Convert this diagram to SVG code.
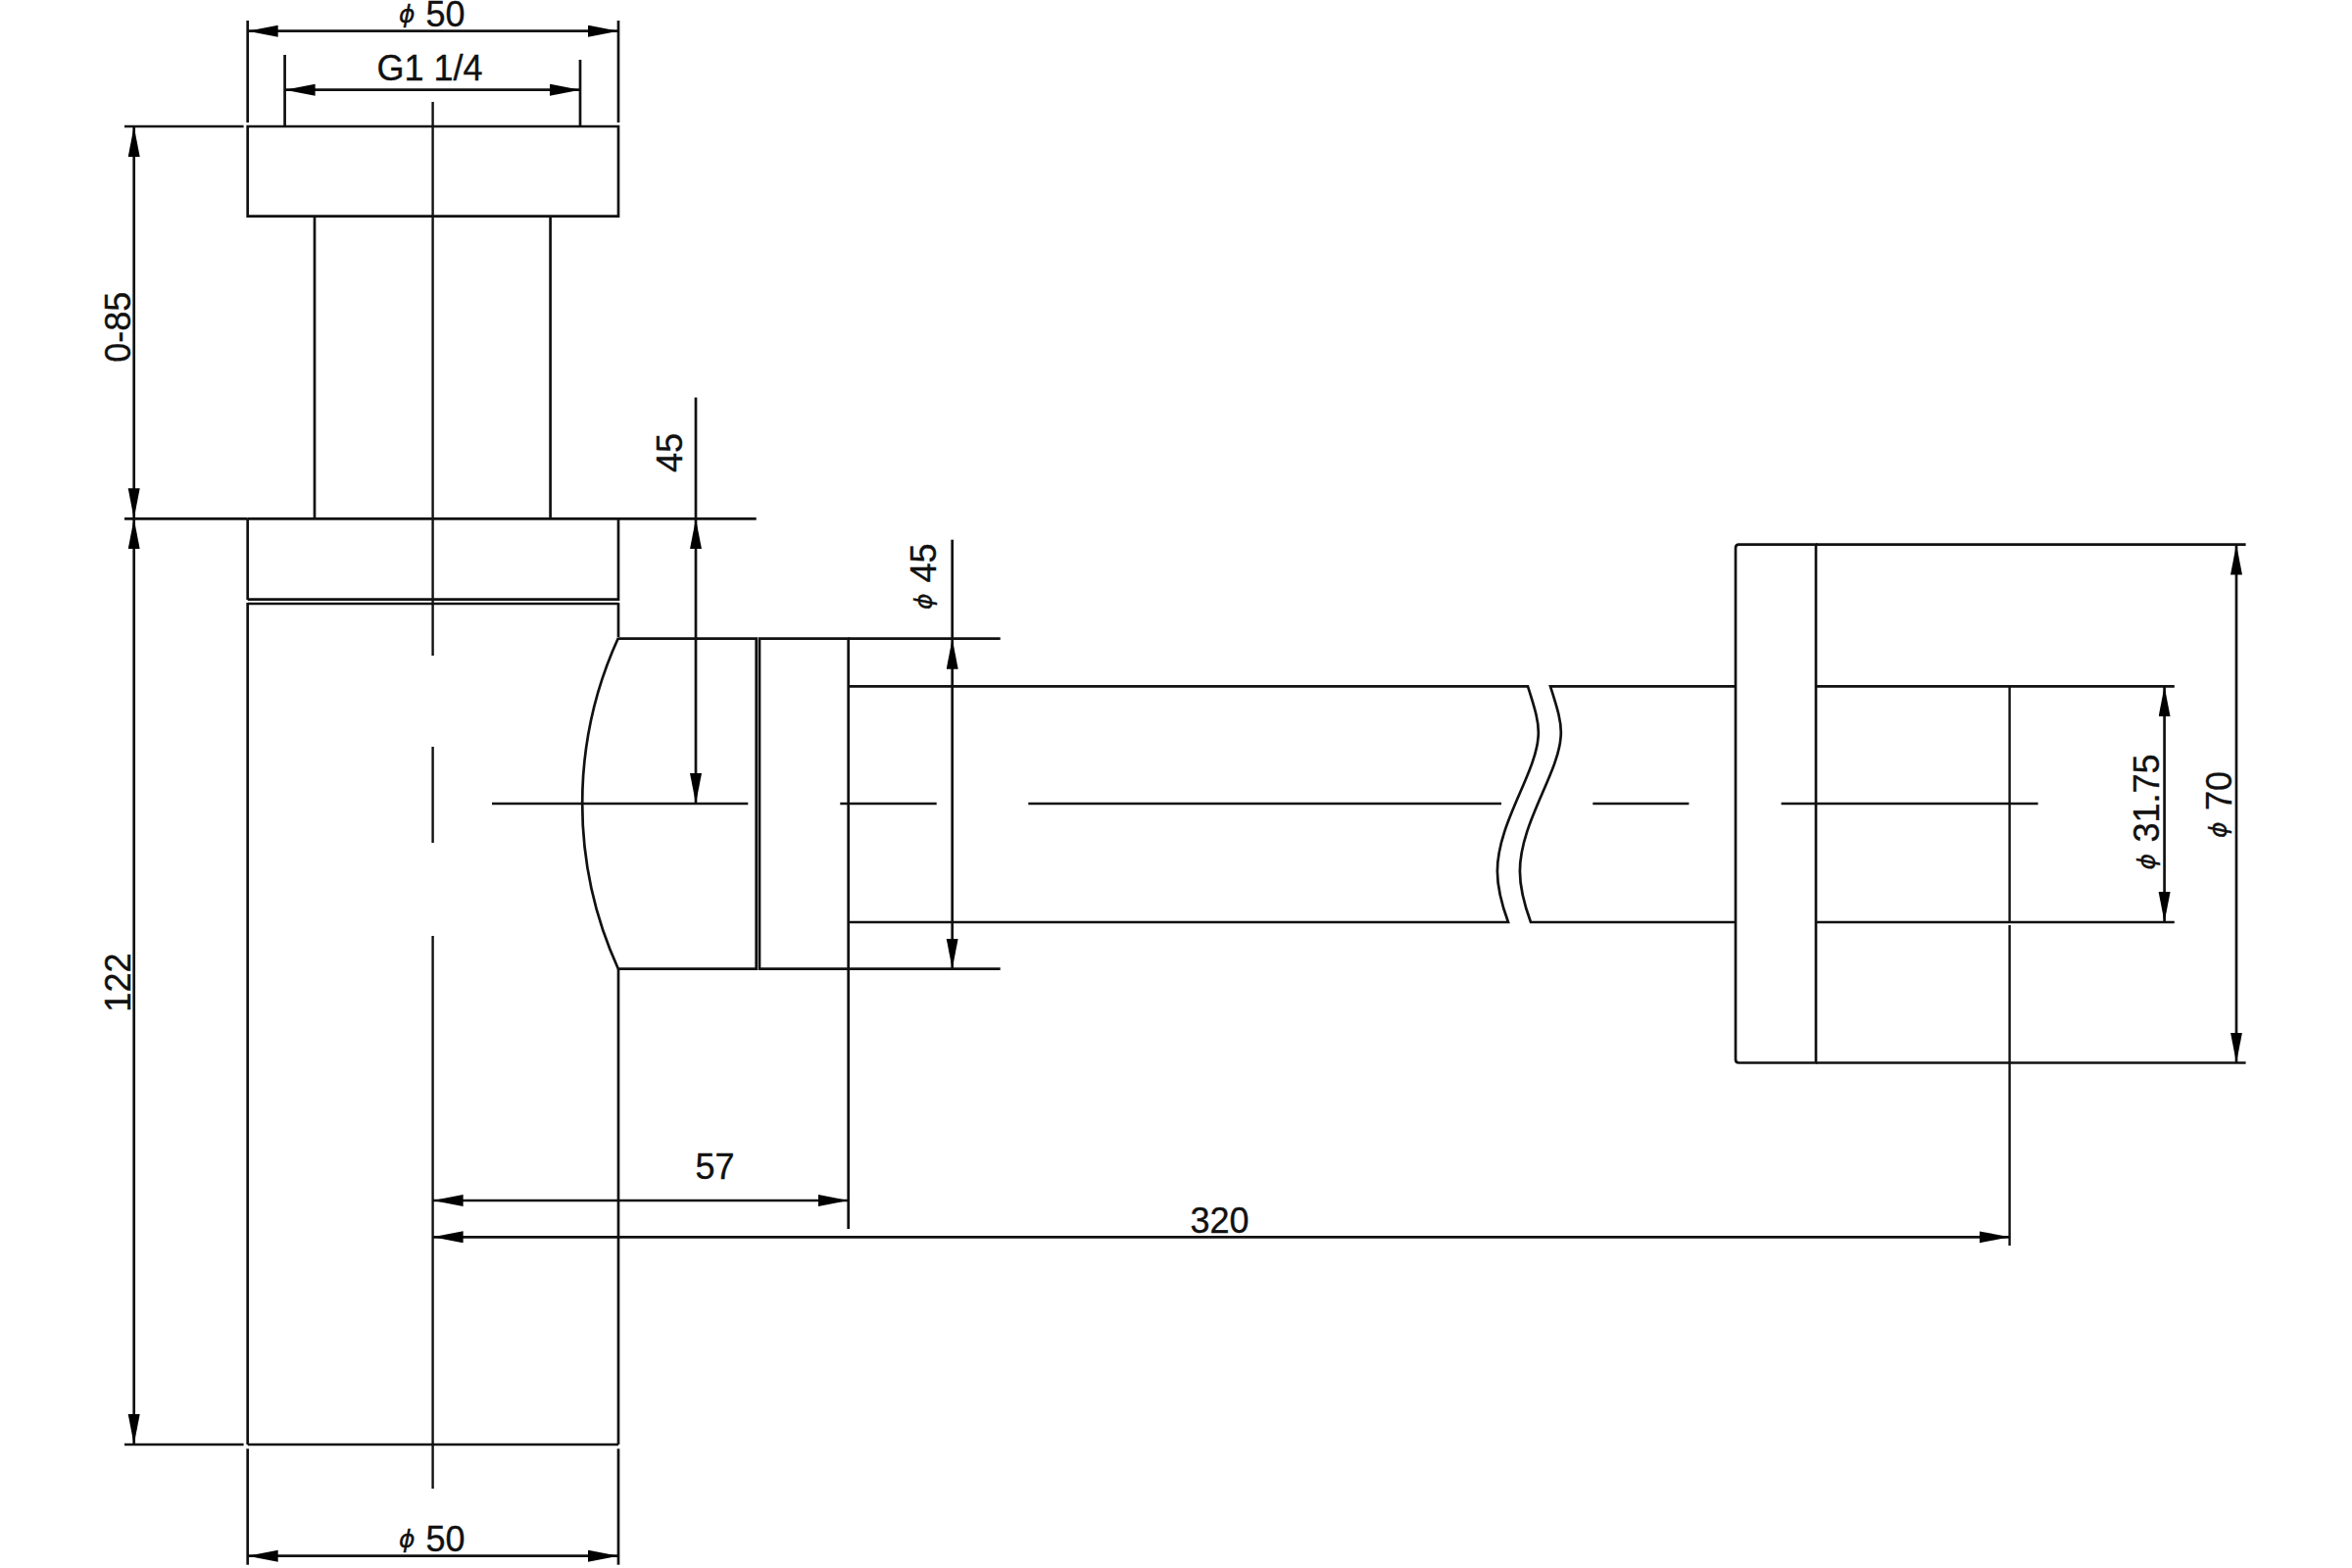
<svg xmlns="http://www.w3.org/2000/svg" width="2400" height="1600" viewBox="0 0 2400 1600">
<style>
line,path{fill:none;stroke:#111;stroke-width:2.7;stroke-linecap:butt}
.c{stroke-width:2.4}
.d{marker-start:url(#a);marker-end:url(#a)}
text{font-family:"Liberation Sans",Arial,sans-serif;font-size:36px;fill:#111;stroke:#111;stroke-width:.35}
.p{font-family:"DejaVu Sans",sans-serif;font-size:25px;font-style:italic}
</style>
<defs>
<marker id="a" markerUnits="userSpaceOnUse" markerWidth="32" markerHeight="14" refX="31" refY="6" orient="auto-start-reverse"><path d="M0 0L31 6L0 12Z" style="fill:#000;stroke:none"/></marker>
</defs>
<rect width="2400" height="1600" fill="#fff"/>
<g id="trap-body">
<path d="M252.7 129H631V220.7H252.7Z"/>
<line x1="321" y1="220.7" x2="321" y2="529.3"/>
<line x1="561.6" y1="220.7" x2="561.6" y2="529.3"/>
<line x1="252.7" y1="529.3" x2="631" y2="529.3"/>
<line x1="252.7" y1="529.3" x2="252.7" y2="612"/>
<line x1="252.7" y1="615" x2="252.7" y2="1474"/>
<path d="M631 529.3V611.7H252.7"/>
<path d="M253 616H631"/>
<line x1="631" y1="615" x2="631" y2="650"/>
<line x1="252.7" y1="1474" x2="631" y2="1474"/>
<line x1="631" y1="989" x2="631" y2="1474"/>
</g>
<g id="outlet-elbow">
<path d="M631 650.7A407 407 0 0 0 631 989"/>
<path d="M631 651.7H771.7V988.7H631"/>
<path d="M775 651.7H865.7V988.7H775Z"/>
</g>
<g id="outlet-pipe">
<path d="M865.7 700.3H1559C1566 722 1571 738 1569.6 752C1567 790 1528 840 1527.9 889C1527.9 905 1532 922 1539 941H865.7"/>
<path d="M1771 700.3H1582C1589 722 1594 738 1592.6 752C1590 790 1551 840 1550.9 889C1550.9 905 1555 922 1562 941H1771"/>
</g>
<g id="wall-flange">
<path d="M1771 559Q1771 555.6 1774.4 555.6H1853V1084.5H1774.4Q1771 1084.5 1771 1081Z"/>
<line x1="1853" y1="700.3" x2="2218.8" y2="700.3"/>
<line x1="1853" y1="941" x2="2218.8" y2="941"/>
</g>
<g id="centre-lines">
<line class="c" x1="441.6" y1="104" x2="441.6" y2="669"/>
<line class="c" x1="441.6" y1="762" x2="441.6" y2="860"/>
<line class="c" x1="441.6" y1="955" x2="441.6" y2="1519"/>
<line class="c" x1="502" y1="820" x2="763.3" y2="820"/>
<line class="c" x1="857.3" y1="820" x2="955.7" y2="820"/>
<line class="c" x1="1049.3" y1="820" x2="1532" y2="820"/>
<line class="c" x1="1625.3" y1="820" x2="1723.4" y2="820"/>
<line class="c" x1="1817.6" y1="820" x2="2079.6" y2="820"/>
<line class="c" x1="2050.6" y1="700.3" x2="2050.6" y2="941"/>
<line class="c" x1="2050.6" y1="944" x2="2050.6" y2="1271"/>
</g>
<g id="connectors">
<line x1="252.7" y1="21" x2="252.7" y2="125"/>
<line x1="631" y1="21" x2="631" y2="125"/>
<line class="d" x1="252.7" y1="31.7" x2="631" y2="31.7"/>
<line x1="290.6" y1="56" x2="290.6" y2="129"/>
<line x1="592" y1="61" x2="592" y2="129"/>
<line class="d" x1="290.6" y1="91.7" x2="592" y2="91.7"/>
<line x1="127" y1="129" x2="248.6" y2="129"/>
<line x1="127" y1="529.3" x2="252.7" y2="529.3"/>
<line x1="631" y1="529.3" x2="771.7" y2="529.3"/>
<line x1="127" y1="1474" x2="248.6" y2="1474"/>
<line class="d" x1="136.7" y1="129" x2="136.7" y2="529.3"/>
<line class="d" x1="136.7" y1="529.3" x2="136.7" y2="1474"/>
<line x1="710" y1="405.6" x2="710" y2="529.3"/>
<line class="d" x1="710" y1="529.3" x2="710" y2="820"/>
<line x1="971.7" y1="550.7" x2="971.7" y2="651.7"/>
<line x1="865.7" y1="651.7" x2="1020.7" y2="651.7"/>
<line x1="865.7" y1="988.7" x2="1020.7" y2="988.7"/>
<line class="d" x1="971.7" y1="651.7" x2="971.7" y2="988.7"/>
<line x1="865.7" y1="988.7" x2="865.7" y2="1254"/>
<line class="d" x1="441.6" y1="1225" x2="865.7" y2="1225"/>
<line class="d" x1="441.6" y1="1262.3" x2="2050.6" y2="1262.3"/>
<line x1="1853" y1="555.6" x2="2291.6" y2="555.6"/>
<line x1="1853" y1="1084.5" x2="2291.6" y2="1084.5"/>
<line class="d" x1="2282" y1="555.6" x2="2282" y2="1084.5"/>
<line class="d" x1="2208.6" y1="700.3" x2="2208.6" y2="941"/>
<line x1="252.7" y1="1478.3" x2="252.7" y2="1596.7"/>
<line x1="631" y1="1478.3" x2="631" y2="1596.7"/>
<line class="d" x1="252.7" y1="1587.7" x2="631" y2="1587.7"/>
</g>
<g id="labels">
<text class="p" x="407" y="22.5">ϕ</text><text x="434.5" y="27">50</text>
<text x="438.6" y="81.7" text-anchor="middle">G1 1/4</text>
<text transform="translate(133 333.7) rotate(-90)" text-anchor="middle">0-85</text>
<text transform="translate(133 1002.6) rotate(-90)" text-anchor="middle">122</text>
<text transform="translate(696 462) rotate(-90)" text-anchor="middle">45</text>
<text class="p" transform="translate(950.5 622) rotate(-90)">ϕ</text><text transform="translate(955 594.5) rotate(-90)">45</text>
<text x="729.5" y="1203" text-anchor="middle">57</text>
<text x="1244.6" y="1258" text-anchor="middle">320</text>
<text class="p" transform="translate(2198.5 887.5) rotate(-90)">ϕ</text><text transform="translate(2203 859.5) rotate(-90)">31.75</text>
<text class="p" transform="translate(2272 855) rotate(-90)">ϕ</text><text transform="translate(2276.6 827) rotate(-90)">70</text>
<text class="p" x="407" y="1578.8">ϕ</text><text x="434.5" y="1583.3">50</text>
</g>
</svg>
